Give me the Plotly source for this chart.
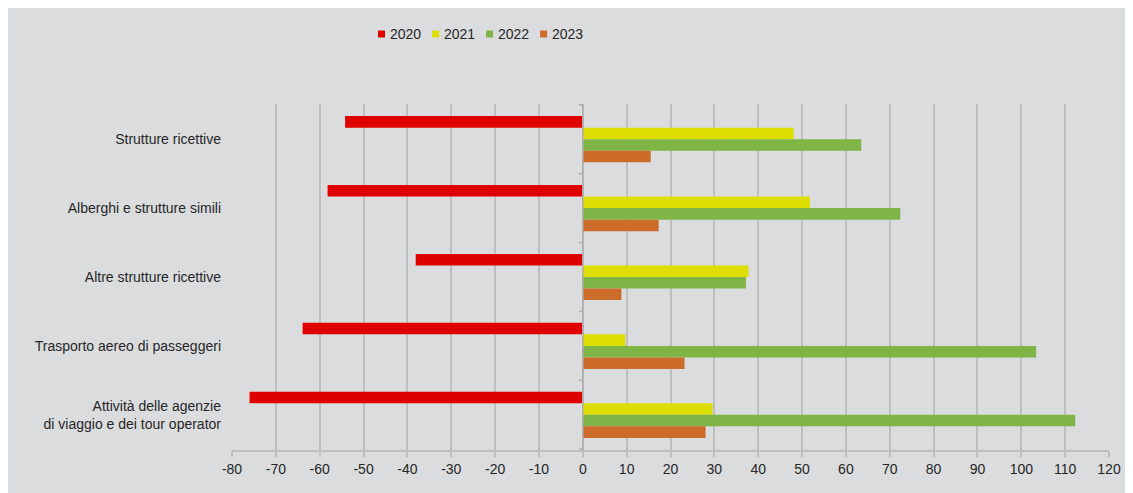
import plotly.graph_objects as go

categories = [
    "Strutture ricettive",
    "Alberghi e strutture simili",
    "Altre strutture ricettive",
    "Trasporto aereo di passeggeri",
    "Attività delle agenzie<br>di viaggio e dei tour operator",
]
years = ["2020", "2021", "2022", "2023"]
v2020 = [-54.2, -58.2, -38.1, -63.9, -76.0]
v2021 = [48.1, 51.8, 37.8, 9.7, 29.6]
v2022 = [63.5, 72.4, 37.2, 103.4, 112.3]
v2023 = [15.5, 17.3, 8.8, 23.2, 28.0]
colors = ["#df0000", "#dede00", "#7fb446", "#cd6b2b"]
x_ticks = list(range(-80, 121, 10))

BG = "#dbdcde"
GRID = "#bdbebf"
AXIS = "#aeafb0"
TXT = "#262626"
FONT = "Liberation Sans, Arial, sans-serif"

fig = go.Figure()
for name, vals, col in zip(years, [v2020, v2021, v2022, v2023], colors):
    fig.add_trace(go.Bar(
        y=categories, x=vals, orientation="h", name=name,
        marker=dict(color=col, line=dict(width=0)),
        showlegend=False,
    ))

shapes = [
    dict(type="line", xref="x", yref="paper", x0=0, x1=0, y0=0, y1=1,
         line=dict(color=AXIS, width=1.5)),
]
for i in range(len(categories) + 1):
    shapes.append(dict(type="line", xref="x", yref="y", x0=-0.9, x1=0,
                       y0=i - 0.5, y1=i - 0.5, line=dict(color=AXIS, width=1.5)))

# custom legend (small squares + labels)
annotations = []
leg_x0 = 0.1705
leg_step = 0.0616
leg_y = 1.2023
for k, (name, col) in enumerate(zip(years, colors)):
    xc = leg_x0 + k * leg_step
    shapes.append(dict(type="rect", xref="paper", yref="paper",
                       xsizemode="pixel", ysizemode="pixel",
                       xanchor=xc, yanchor=leg_y, x0=-3.5, x1=3.5, y0=-3.5, y1=3.5,
                       fillcolor=col, line=dict(width=0)))
    annotations.append(dict(xref="paper", yref="paper", x=xc, y=leg_y,
                            xshift=6, text=name, showarrow=False,
                            xanchor="left", yanchor="middle",
                            font=dict(size=14, color=TXT, family=FONT)))

fig.update_layout(
    width=1125, height=485,
    margin=dict(l=224, r=24, t=96, b=43),
    paper_bgcolor=BG, plot_bgcolor=BG,
    barmode="group", bargap=0.33, bargroupgap=0,
    font=dict(family=FONT, size=14, color=TXT),
    shapes=shapes, annotations=annotations,
    showlegend=False,
    xaxis=dict(range=[-80, 120], tickvals=x_ticks, ticktext=[str(t) for t in x_ticks],
               showgrid=True, gridcolor=GRID, gridwidth=1.5,
               showline=True, linecolor=GRID, linewidth=2,
               ticks="outside", ticklen=5, tickcolor=GRID, tickwidth=1.5,
               zeroline=False, tickfont=dict(size=14, color=TXT)),
    yaxis=dict(autorange="reversed", showgrid=False, showline=False, ticks="",
               ticklabelstandoff=10, tickfont=dict(size=14, color=TXT)),
)

fig.write_html("out.html")
